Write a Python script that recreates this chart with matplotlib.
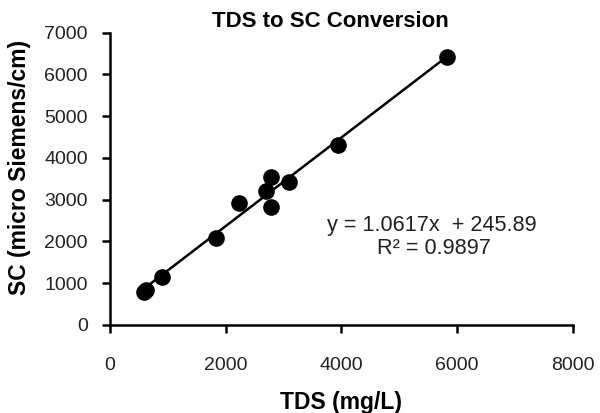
import numpy as np
import matplotlib
matplotlib.use("Agg")
import matplotlib.pyplot as plt

plt.rcParams['font.family'] = ['Liberation Sans', 'DejaVu Sans']

tds = [580, 630, 900, 1830, 2230, 2690, 2790, 2780, 3100, 3940, 5830]
sc = [800, 830, 1160, 2080, 2930, 3210, 3550, 2820, 3430, 4310, 6420]

slope, intercept = 1.0617, 245.89
r2 = 0.9897

fig = plt.figure(figsize=(6, 4.13), dpi=100)
ax = fig.add_axes([0.1833, 0.2131, 0.7717, 0.7077])

ax.scatter(tds, sc, s=120, color='black', zorder=3)
xs = np.array([min(tds), max(tds)])
ax.plot(xs, slope * xs + intercept, color='black', lw=1.8, zorder=2)

ax.set_xlim(0, 8000)
ax.set_ylim(0, 7000)
ax.set_xticks(range(0, 8001, 2000))
ax.set_yticks(range(0, 7001, 1000))
for s in ['top', 'right']:
    ax.spines[s].set_visible(False)
for s in ['left', 'bottom']:
    ax.spines[s].set_linewidth(1.8)
ax.tick_params(direction='out', length=6, width=1.8, labelsize=14, colors='black',
               labelcolor='#222222')
ax.tick_params(axis='x', pad=17)
ax.tick_params(axis='y', pad=10)

fig.text(0.55, 0.947, 'TDS to SC Conversion', fontsize=16, fontweight='bold',
         ha='center', va='center')
ax.set_xlabel('TDS (mg/L)', fontsize=16.5, fontweight='bold', labelpad=12)
ax.set_ylabel('SC (micro Siemens/cm)', fontsize=16.5, fontweight='bold')
ax.yaxis.set_label_coords(-0.17, 0.54)

ax.text(5560, 2390, 'y = 1.0617x  + 245.89', fontsize=15.6, ha='center', va='center',
        color='#222222')
ax.text(5590, 1820, 'R² = 0.9897', fontsize=15.6, ha='center', va='center',
        color='#222222')

fig.savefig('out.png', dpi=100)
